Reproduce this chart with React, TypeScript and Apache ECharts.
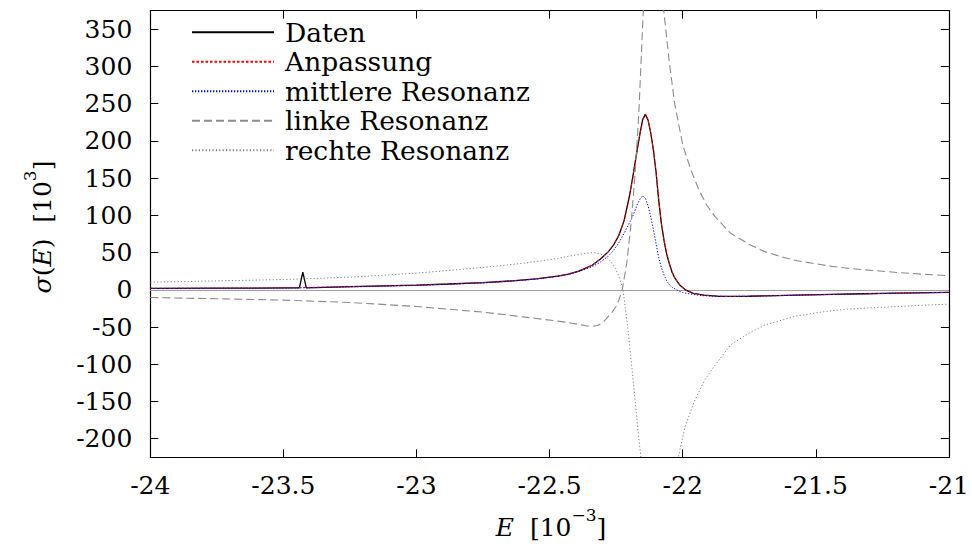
import React, { useEffect, useRef } from "react";
import * as echarts from "echarts";

// ---- data (E in 10^-3, sigma in 10^3) ----
const datenX = [-24, -23.75, -23.5, -23.44, -23.427, -23.414, -23.25, -23.0, -22.88, -22.75, -22.63, -22.55, -22.47, -22.43, -22.39, -22.34, -22.31, -22.28, -22.26, -22.24, -22.22, -22.2, -22.19, -22.18, -22.17, -22.16, -22.15, -22.14, -22.13, -22.12, -22.11, -22.1, -22.09, -22.08, -22.07, -22.06, -22.05, -22.04, -22.03, -22.01, -21.99, -21.96, -21.92, -21.87, -21.82, -21.75, -21.69, -21.57, -21.44, -21.32, -21.19, -21.0];
const datenY = [2.0, 2.2, 2.5, 2.6, 23.7, 2.7, 4.3, 6.3, 7.8, 9.6, 12.3, 14.8, 18.5, 21, 25, 33, 41, 51, 60, 73, 93, 126, 146, 168, 190, 211, 229, 236, 228, 211, 188, 158, 120, 89, 66, 48, 35, 24, 16, 6, 0, -4.8, -7.2, -8.6, -8.9, -8.6, -8.1, -7.2, -6.2, -5.3, -4.5, -3.4];

const fitX = [-24, -23.75, -23.5, -23.25, -23.0, -22.88, -22.75, -22.63, -22.55, -22.47, -22.43, -22.39, -22.34, -22.31, -22.28, -22.26, -22.24, -22.22, -22.2, -22.19, -22.18, -22.17, -22.16, -22.15, -22.14, -22.13, -22.12, -22.11, -22.1, -22.09, -22.08, -22.07, -22.06, -22.05, -22.04, -22.03, -22.01, -21.99, -21.96, -21.92, -21.87, -21.82, -21.75, -21.69, -21.57, -21.44, -21.32, -21.19, -21.0];
const fitY = [2.0, 2.2, 2.5, 4.3, 6.3, 7.8, 9.6, 12.3, 14.8, 18.5, 21, 25, 33, 41, 51, 60, 73, 93, 126, 146, 168, 190, 211, 229, 236, 228, 211, 188, 158, 120, 89, 66, 48, 35, 24, 16, 6, 0, -4.8, -7.2, -8.6, -8.9, -8.6, -8.1, -7.2, -6.2, -5.3, -4.5, -3.4];

const midX = [-24, -23.5, -23.25, -23.0, -22.75, -22.63, -22.55, -22.47, -22.43, -22.39, -22.34, -22.31, -22.28, -22.26, -22.24, -22.22, -22.2, -22.19, -22.18, -22.17, -22.16, -22.15, -22.14, -22.13, -22.12, -22.11, -22.1, -22.09, -22.08, -22.07, -22.06, -22.05, -22.04, -22.02, -22.0, -21.96, -21.92, -21.87, -21.82, -21.75, -21.69, -21.57, -21.44, -21.32, -21.19, -21.0];
const midY = [1.6, 2.2, 3.8, 5.8, 9.2, 12, 14.5, 18, 20.5, 24.5, 31, 37, 45, 53, 63, 76, 90, 97, 106, 115, 122, 126.5, 123, 113, 98, 81, 62, 43, 30, 20, 12, 7, 3.5, -0.5, -3.8, -6.3, -8, -8.7, -8.9, -8.6, -8.1, -7.2, -6.2, -5.3, -4.5, -3.4];

const leftX = [-24, -23.75, -23.5, -23.25, -23.13, -23.0, -22.88, -22.75, -22.63, -22.55, -22.47, -22.43, -22.39, -22.36, -22.34, -22.32, -22.3, -22.28, -22.265, -22.25, -22.24, -22.227, -22.21, -22.195, -22.18, -22.165, -22.148, -22.13, -22.11, -22.09, -22.071, -22.05, -22.03, -22.0, -21.97, -21.94, -21.91, -21.88, -21.82, -21.75, -21.69, -21.63, -21.57, -21.5, -21.44, -21.38, -21.32, -21.25, -21.19, -21.1, -21.0];
const leftY = [-10.3, -12, -13.8, -17, -19.5, -22.5, -26, -30, -35, -38.5, -42, -44, -46.5, -48.5, -49, -48, -44, -36, -30, -22, -14, 0, 36, 85, 150, 235, 375, 540, 600, 540, 375, 305, 250, 195, 162, 135, 114, 99, 76, 61, 51, 44.5, 39, 35, 31.5, 29, 27, 25, 23.2, 21, 19];

const rightX = [-24, -23.75, -23.5, -23.25, -23.13, -23.0, -22.88, -22.75, -22.63, -22.55, -22.47, -22.43, -22.39, -22.36, -22.335, -22.31, -22.29, -22.275, -22.26, -22.24, -22.224, -22.204, -22.185, -22.167, -22.157, -22.14, -22.11, -22.08, -22.05, -22.017, -21.99, -21.954, -21.917, -21.88, -21.82, -21.75, -21.69, -21.63, -21.57, -21.5, -21.44, -21.38, -21.32, -21.25, -21.19, -21.1, -21.0];
const rightY = [10.3, 12, 13.8, 17, 19.5, 22.5, 26, 30, 34.5, 38, 42, 45, 47.5, 49.2, 50, 48.5, 45, 40, 33, 19, 0, -58, -125, -192, -225, -320, -420, -450, -380, -225, -183, -148, -121, -102, -74, -58, -47, -41, -35, -31, -28, -26, -24.6, -23.4, -22.4, -20.8, -19.2];

const seriesNames = ["Daten", "Anpassung", "mittlere Resonanz", "linke Resonanz", "rechte Resonanz"];
const xTicks = [-24, -23.5, -23, -22.5, -22, -21.5, -21];
const yTicks = [-200, -150, -100, -50, 0, 50, 100, 150, 200, 250, 300, 350];

const FONT = "DejaVu Serif";
const FS = 25;

function pairs(xs: number[], ys: number[]) {
  return xs.map((x, i) => [x, ys[i]]);
}

export default function App() {
  const ref = useRef<HTMLDivElement>(null);
  useEffect(() => {
    if (!ref.current) return;
    const chart = echarts.init(ref.current, null, { renderer: "svg" });
    const tickStyle = { show: true, inside: true, length: 8, lineStyle: { color: "#000", width: 1 } };
    const axisLine = { show: true, onZero: false, lineStyle: { color: "#000", width: 1.2 } };
    const labelStyle = { fontFamily: FONT, fontSize: FS, color: "#000" };
    const rich = {
      i: { fontFamily: FONT, fontSize: FS, fontStyle: "italic", lineHeight: 34, verticalAlign: "bottom", fill: "#000" },
      n: { fontFamily: FONT, fontSize: FS, lineHeight: 34, verticalAlign: "bottom", fill: "#000" },
      s: { fontFamily: FONT, fontSize: 17, lineHeight: 20, verticalAlign: "top", fill: "#000" },
    };
    const option: any = {
      animation: false,
      backgroundColor: "#fff",
      textStyle: { fontFamily: FONT },
      grid: { left: 150.3, right: 20.3, top: 10.7, bottom: 89.7, containLabel: false },
      legend: {
        show: true,
        orient: "vertical",
        left: 186,
        top: 12.5,
        itemWidth: 82,
        itemHeight: 12,
        itemGap: 0,
        selectedMode: false,
        data: seriesNames,
        itemStyle: { opacity: 0 },
        textStyle: { ...labelStyle, fontSize: 26.5, lineHeight: 29.5, padding: [0, 0, 0, 6] },
      },
      xAxis: [
        {
          type: "value",
          position: "bottom",
          min: xTicks[0],
          max: xTicks[xTicks.length - 1],
          interval: 0.5,
          axisLine,
          axisTick: tickStyle,
          splitLine: { show: false },
          axisLabel: { ...labelStyle, margin: 16, showMinLabel: true, showMaxLabel: true, formatter: (v: number) => String(v) },
        },
        {
          type: "value",
          position: "top",
          min: xTicks[0],
          max: xTicks[xTicks.length - 1],
          interval: 0.5,
          axisLine,
          axisTick: tickStyle,
          splitLine: { show: false },
          axisLabel: { show: false },
        },
      ],
      yAxis: [
        {
          type: "value",
          position: "left",
          min: -225,
          max: 375,
          axisLine,
          axisTick: { ...tickStyle, customValues: yTicks },
          splitLine: { show: false },
          axisLabel: { ...labelStyle, margin: 18, customValues: yTicks, formatter: (v: number) => String(v) },
        },
        {
          type: "value",
          position: "right",
          min: -225,
          max: 375,
          axisLine,
          axisTick: { ...tickStyle, customValues: yTicks },
          splitLine: { show: false },
          axisLabel: { show: false, customValues: yTicks },
        },
      ],
      series: [
        {
          name: seriesNames[0],
          type: "line",
          data: pairs(datenX, datenY),
          symbol: "none",
          showSymbol: false,
          clip: true,
          lineStyle: { color: "#000", width: 1.3, type: "solid" },
          itemStyle: { color: "#000" },
          markLine: {
            silent: true,
            symbol: "none",
            label: { show: false },
            lineStyle: { color: "#a0a0a0", width: 1.2, type: "solid" },
            data: [{ yAxis: 0 }],
            z: 1,
          },
        },
        {
          name: seriesNames[1],
          type: "line",
          data: pairs(fitX, fitY),
          symbol: "none",
          showSymbol: false,
          clip: true,
          lineStyle: { color: "#ff0000", width: 1, type: [2.5, 2] },
          itemStyle: { color: "#ff0000" },
        },
        {
          name: seriesNames[2],
          type: "line",
          data: pairs(midX, midY),
          symbol: "none",
          showSymbol: false,
          clip: true,
          lineStyle: { color: "#0000ff", width: 1, type: [1.3, 1.7] },
          itemStyle: { color: "#0000ff" },
        },
        {
          name: seriesNames[3],
          type: "line",
          data: pairs(leftX, leftY),
          symbol: "none",
          showSymbol: false,
          clip: true,
          lineStyle: { color: "#8c8c8c", width: 1.1, type: [8, 4] },
          itemStyle: { color: "#8c8c8c" },
        },
        {
          name: seriesNames[4],
          type: "line",
          data: pairs(rightX, rightY),
          symbol: "none",
          showSymbol: false,
          clip: true,
          lineStyle: { color: "#808080", width: 1, type: [1.2, 2.2] },
          itemStyle: { color: "#808080" },
        },
      ],
      graphic: [
        {
          type: "text",
          x: 38,
          y: 227,
          rotation: Math.PI / 2,
          style: {
            text: "{i|σ}{n|(}{i|E}{n|)  [10}{s|3}{n|]}",
            align: "center",
            verticalAlign: "middle",
            fill: "#000",
            rich,
          },
        },
        {
          type: "text",
          x: 551,
          y: 523,
          style: {
            text: "{i|E}{n|  [10}{s|−3}{n|]}",
            align: "center",
            verticalAlign: "middle",
            fill: "#000",
            rich,
          },
        },
      ],
    };
    chart.setOption(option);
    return () => chart.dispose();
  }, []);
  return (
    <div
      ref={ref}
      style={{ position: "fixed", left: 0, top: 0, width: 972, height: 547, background: "#fff" }}
    />
  );
}
